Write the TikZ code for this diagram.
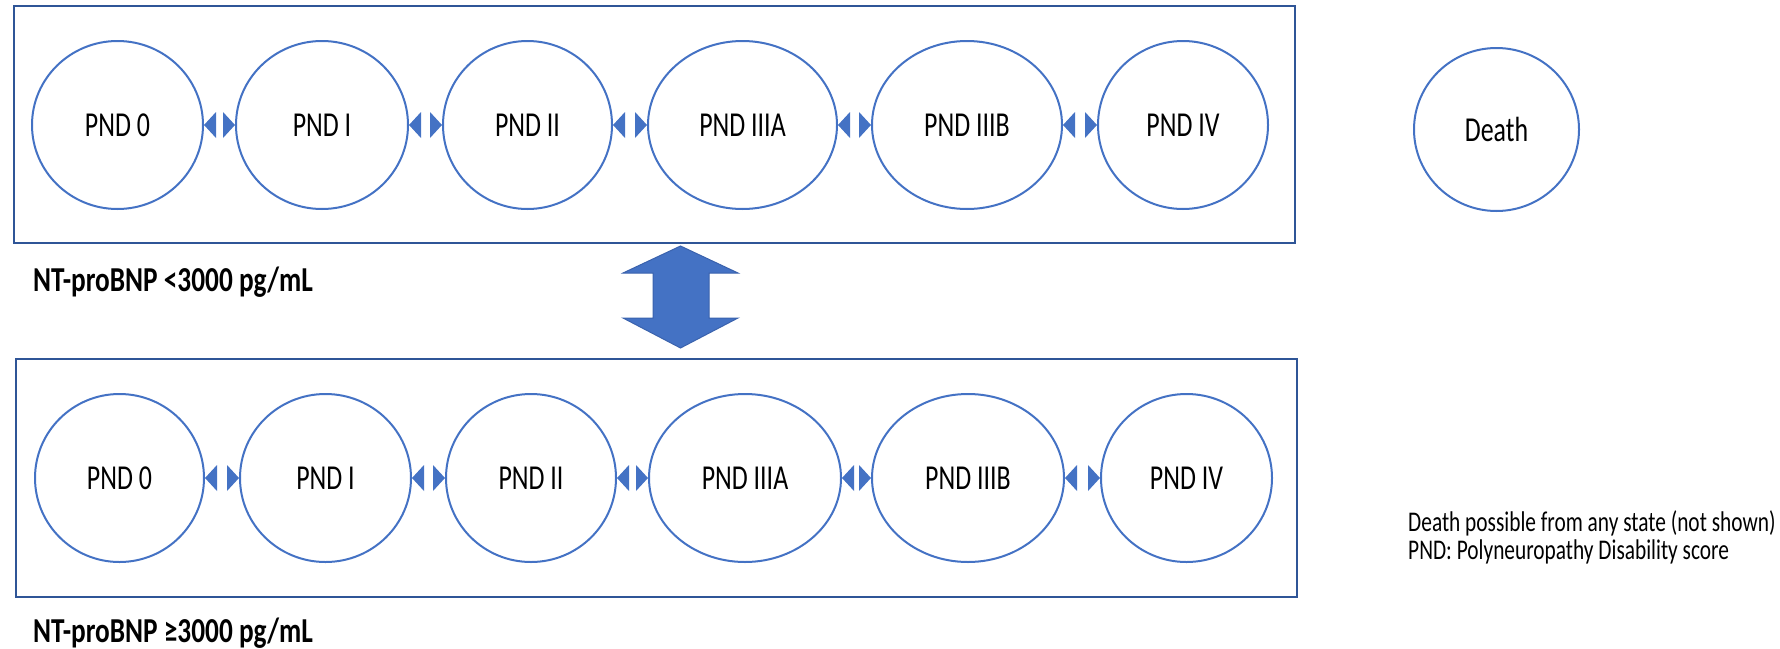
\documentclass[tikz,border=0pt]{standalone}
\usepackage{fontspec}
\setmainfont{Carlito}
\newfontfamily\pndfont[FakeStretch=0.74]{Carlito}
\newfontfamily\labfont[FakeStretch=0.78]{Carlito}
\newfontfamily\legfont[FakeStretch=0.75]{Carlito}
\usetikzlibrary{shapes.geometric}
\definecolor{ellc}{HTML}{4472C4}
\definecolor{framec}{HTML}{2F5597}
\definecolor{bigc}{HTML}{4472C4}
\definecolor{bigedge}{HTML}{3A62AD}
\tikzset{
  state/.style={ellipse, draw=ellc, line width=2pt, minimum height=168pt, inner sep=0pt,
    font=\pndfont\fontsize{35}{40}\selectfont},
  frame/.style={draw=framec, line width=2.5pt},
  link/.style={fill=ellc},
  lab/.style={anchor=west, inner sep=0pt, font=\labfont\bfseries\fontsize{35}{40}\selectfont},
  legend/.style={anchor=west, inner sep=0pt, font=\legfont\fontsize{28.5}{34}\selectfont},
}
\begin{document}
\begin{tikzpicture}[x=1pt,y=-1pt]
\useasboundingbox (0,0) rectangle (1780,648);
% frames
\draw[frame] (14,6) rectangle (1295,243);
\draw[frame] (16,359) rectangle (1297,597);
% upper row
\node[state, minimum width=171pt] (u0) at (117.5,125) {PND 0};
\node[state, minimum width=172pt] (u1) at (322,125) {PND I};
\node[state, minimum width=169pt] (u2) at (527.5,125) {PND II};
\node[state, minimum width=189pt] (u3) at (742.5,125) {PND IIIA};
\node[state, minimum width=190pt] (u4) at (967,125) {PND IIIB};
\node[state, minimum width=170pt] (u5) at (1183,125) {PND IV};
\node[state, minimum width=165pt, minimum height=163pt] (death) at (1496.5,129.5) {Death};
% lower row
\node[state, minimum width=169pt] (l0) at (119.5,478) {PND 0};
\node[state, minimum width=171pt] (l1) at (325.5,478) {PND I};
\node[state, minimum width=170pt] (l2) at (531,478) {PND II};
\node[state, minimum width=192pt] (l3) at (745,478) {PND IIIA};
\node[state, minimum width=192pt] (l4) at (968,478) {PND IIIB};
\node[state, minimum width=171pt] (l5) at (1186.5,478) {PND IV};
% links (two-headed arrows shown as their heads only)
\foreach \a/\b in {u0/u1,u1/u2,u2/u3,u3/u4,u4/u5,l0/l1,l1/l2,l2/l3,l3/l4,l4/l5}
  \fill[link] (\a.east) -- ++(12,-13) -- ++(0,26) -- cycle
              (\b.west) -- ++(-12,-13) -- ++(0,26) -- cycle;
% big up-down arrow
\filldraw[fill=bigc, draw=bigedge, line width=1pt, line join=miter]
  (680.5,246) -- (738,273) -- (709,273) -- (709,318) -- (738,318) -- (680.5,348)
  -- (623,318) -- (653,318) -- (653,273) -- (623,273) -- cycle;
% labels
\node[lab] (labu) at (33,282) {NT-proBNP <3000 pg/mL};
\node[lab] (labl) at (33,633) {NT-proBNP ≥3000 pg/mL};
\node[legend] (leg1) at (1408,523) {Death possible from any state (not shown)};
\node[legend] (leg2) at (1408,552) {PND: Polyneuropathy Disability score};
\end{tikzpicture}
\end{document}
